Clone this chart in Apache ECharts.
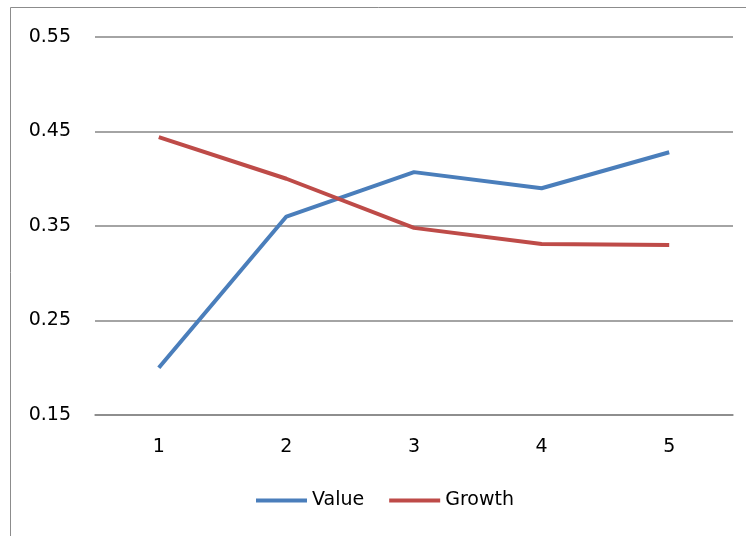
<!DOCTYPE html>
<html>
<head>
<meta charset="utf-8">
<script src="https://cdn.jsdelivr.net/npm/echarts@6/dist/echarts.min.js"></script>
<style>
  html, body { margin: 0; padding: 0; background: #fff; }
  #chart { width: 746px; height: 536px; }
</style>
</head>
<body>
<div id="chart"></div>
<script>
// Categories along the x axis
const categories = ['1', '2', '3', '4', '5'];

// Series values
const valueSeries = [0.200, 0.360, 0.407, 0.390, 0.428];
const growthSeries = [0.444, 0.400, 0.348, 0.331, 0.330];

// Y axis range and step
const yMin = 0.15;
const yMax = 0.55;
const yStep = 0.1;

const chart = echarts.init(document.getElementById('chart'), null, { renderer: 'canvas' });

const fontFamily = '"DejaVu Sans", Verdana, sans-serif';

chart.setOption({
  animation: false,
  backgroundColor: '#ffffff',
  // chart-area frame, running off the right and bottom edges
  graphic: [{
    type: 'rect',
    shape: { x: 10.5, y: 7.5, width: 800, height: 600 },
    style: { fill: 'none', stroke: '#8c8c8c', lineWidth: 1 },
    silent: true
  }],
  grid: { left: 95, right: 13, top: 37, bottom: 121, containLabel: false },
  legend: {
    left: 251,
    top: 486,
    icon: 'rect',
    itemWidth: 51,
    itemHeight: 4,
    itemGap: 25,
    textStyle: { fontFamily, fontSize: 19, color: '#000' },
    data: ['Value', 'Growth']
  },
  xAxis: {
    type: 'category',
    data: categories,
    boundaryGap: true,
    axisLine: { show: true, lineStyle: { color: '#868686', width: 1.5 } },
    axisTick: { show: false },
    axisLabel: { fontFamily, fontSize: 19, color: '#000', margin: 23 }
  },
  yAxis: {
    type: 'value',
    min: yMin,
    max: yMax,
    interval: yStep,
    axisLine: { show: false },
    axisTick: { show: false },
    splitLine: { lineStyle: { color: '#868686', width: 1.5 } },
    axisLabel: {
      fontFamily, fontSize: 19, color: '#000', margin: 24,
      formatter: v => v.toFixed(2)
    }
  },
  series: [
    {
      name: 'Value',
      type: 'line',
      data: valueSeries,
      symbol: 'none',
      color: '#4a7ebb',
      lineStyle: { width: 4, color: '#4a7ebb' }
    },
    {
      name: 'Growth',
      type: 'line',
      data: growthSeries,
      symbol: 'none',
      color: '#be4b48',
      lineStyle: { width: 4, color: '#be4b48' }
    }
  ]
});
</script>
</body>
</html>
